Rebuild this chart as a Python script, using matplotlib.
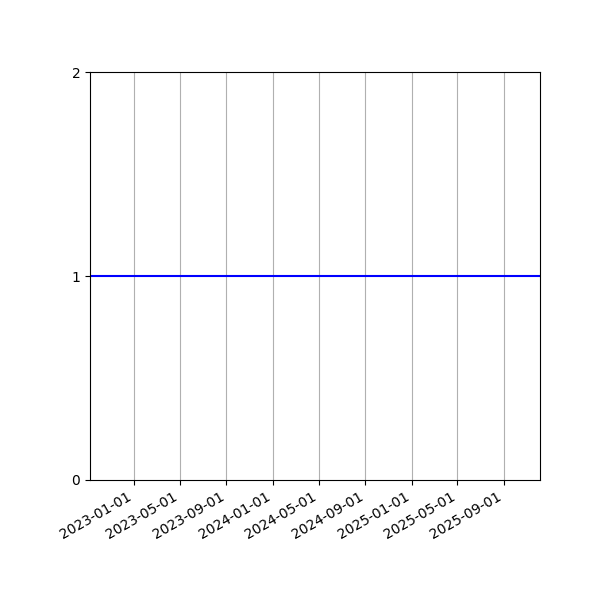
import numpy as np
import matplotlib
matplotlib.use('Agg')
import matplotlib.pyplot as plt
import matplotlib.dates as mdates

# data
dates = np.array(['2022-09-07', '2025-12-05'], dtype='datetime64[D]')
values = [1, 1]
tick_dates = np.array(['2023-01-01', '2023-05-01', '2023-09-01', '2024-01-01', '2024-05-01',
                       '2024-09-01', '2025-01-01', '2025-05-01', '2025-09-01'], dtype='datetime64[D]')

fig, ax = plt.subplots(figsize=(6, 6), dpi=100)
ax.plot(dates, values, color='blue', linewidth=1.5)
ax.set_xlim(dates[0], dates[-1])
ax.set_ylim(0, 2)
ax.set_yticks([0, 1, 2])
ax.set_xticks(tick_dates)
ax.xaxis.set_major_formatter(mdates.DateFormatter('%Y-%m-%d'))
ax.grid(axis='x', color='#b0b0b0', linewidth=0.8)
fig.autofmt_xdate()
fig.subplots_adjust(left=0.15, right=0.9, top=0.88, bottom=0.2)
fig.savefig('out.png')
